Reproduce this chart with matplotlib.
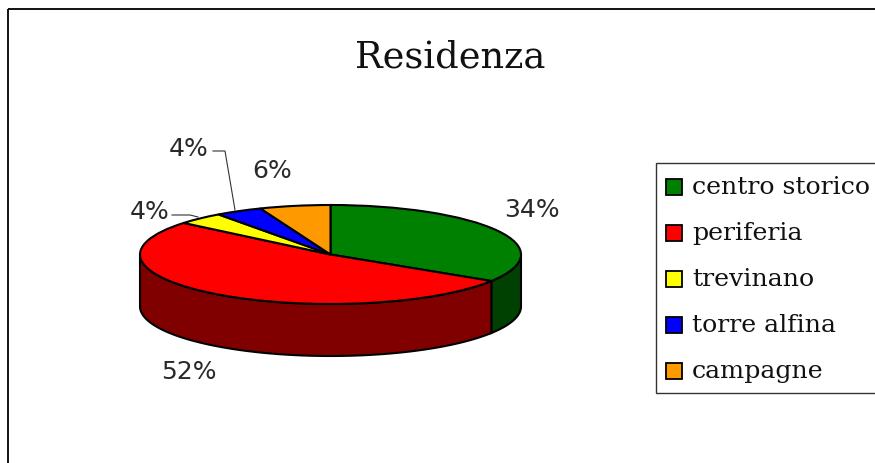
import numpy as np
import matplotlib.pyplot as plt
from matplotlib.patches import Rectangle, Polygon

W, H = 875, 464

title = "Residenza"
labels = ["centro storico", "periferia", "trevinano", "torre alfina", "campagne"]
values = [34, 52, 4, 4, 6]
pct_labels = ["34%", "52%", "4%", "4%", "6%"]
colors = ["#008000", "#ff0000", "#ffff00", "#0000ff", "#ff9900"]
dark = ["#004000", "#800000", "#808000", "#000080", "#804d00"]

fig = plt.figure(figsize=(W / 100, H / 100), dpi=100)

# overlay in pixel coords, for frame, text, legend
bg = fig.add_axes([0, 0, 1, 1], zorder=3)
bg.set_xlim(0, W)
bg.set_ylim(H, 0)
bg.axis("off")
bg.patch.set_alpha(0)

bg.add_patch(Rectangle((8, 10), W + 20, H + 20, fc="none", ec="black", lw=1.3))
bg.text(450, 57, title, family="DejaVu Serif", fontsize=26.5, ha="center", va="center", color="#111111")

# pie axes, squashed so the circle becomes the top of the disc
left, right, top, bottom = 140, 521, 206, 305
depth = 52
ax = fig.add_axes([left / W, 1 - bottom / H, (right - left) / W, (bottom - top) / H], zorder=2)
ax.pie(values, colors=colors, startangle=90, counterclock=False, radius=1,
       wedgeprops=dict(edgecolor="black", linewidth=1.5))
ax.set_aspect("auto")
ax.set_xlim(-1, 1)
ax.set_ylim(-1, 1)

# side wall: only the front half of the disc shows
drop = depth / ((bottom - top) / 2)
edges = 90 - np.cumsum([0] + values) * 3.6
for i in range(len(values)):
    a = max(edges[i + 1], -180)
    b = min(edges[i], 0)
    if a >= b:
        continue
    t = np.radians(np.linspace(b, a, 80))
    xs, ys = np.cos(t), np.sin(t)
    pts = np.vstack([np.c_[xs, ys], np.c_[xs, ys - drop][::-1]])
    ax.add_patch(Polygon(pts, closed=True, fc=dark[i], ec="black", lw=1.5, clip_on=False, zorder=0))

# percent labels
pct_pos = [(532, 210), (189, 372), (150, 212), (189, 149), (272, 171)]
for s, (x, y) in zip(pct_labels, pct_pos):
    bg.text(x, y, s, family="DejaVu Sans", fontsize=18, ha="center", va="center", color="#2a2a2a")

bg.plot([172, 190, 198], [216, 216, 218], color="#333333", lw=0.8)
bg.plot([213, 225, 235], [152, 152, 211], color="#333333", lw=0.8)

# legend
bg.add_patch(Rectangle((656, 164), W, 230, fc="white", ec="#333333", lw=1.0))
leg_y = [188, 234, 280, 326, 372]
for s, c, y in zip(labels, colors, leg_y):
    bg.add_patch(Rectangle((666, y - 8), 16, 16, fc=c, ec="black", lw=1.3))
    bg.text(692, y + 6, s, family="DejaVu Serif", fontsize=18.2, ha="left", va="baseline", color="#111111")

fig.savefig("out.png", dpi=100)
